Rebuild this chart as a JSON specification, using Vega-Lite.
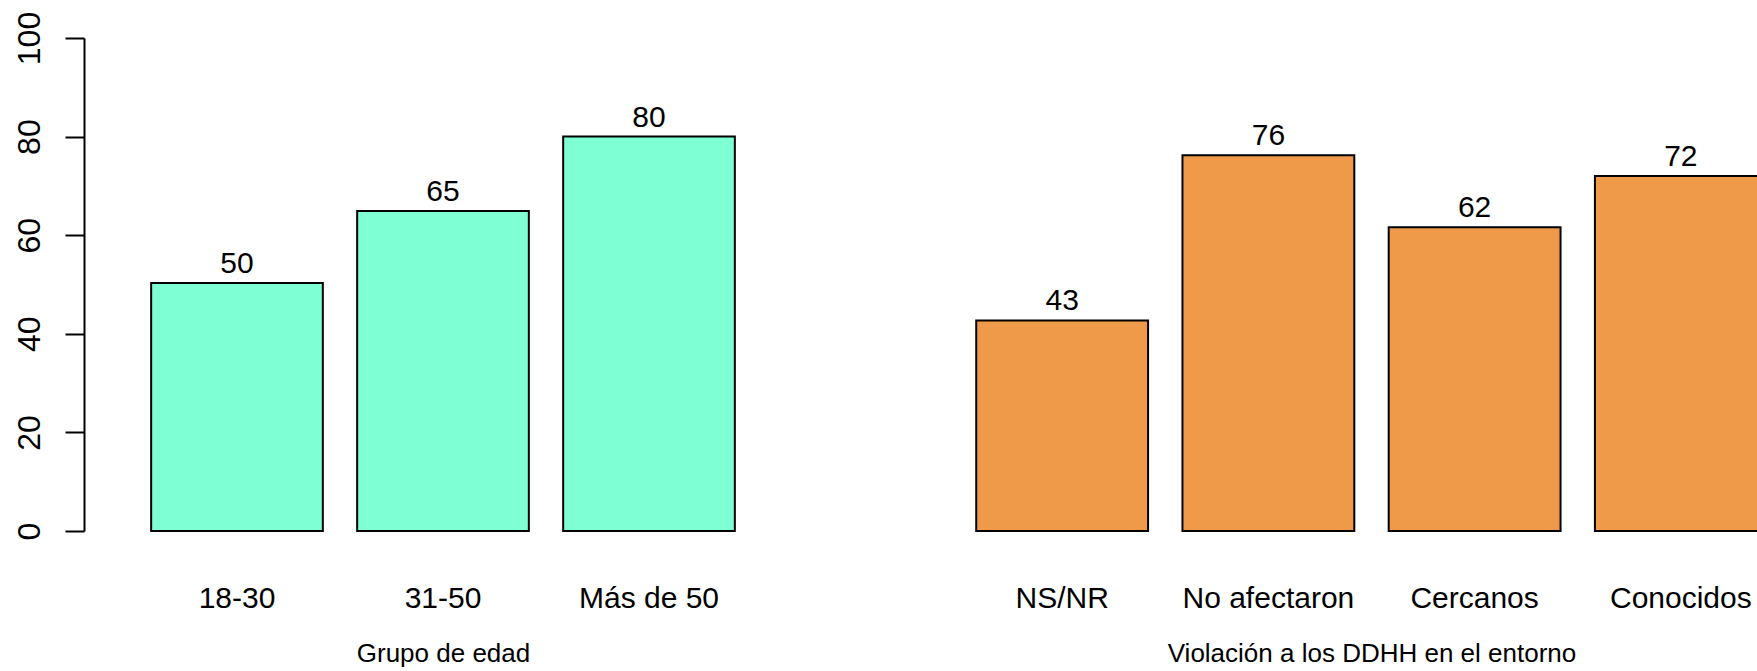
{
  "$schema": "https://vega.github.io/schema/vega-lite/v6.json",
  "width": 1673,
  "height": 493,
  "autosize": {"type": "none"},
  "padding": {"left": 84, "top": 38, "right": 0, "bottom": 140},
  "background": "white",
  "config": {
    "view": {"stroke": null},
    "font": "Liberation Sans",
    "axis": {"grid": false}
  },
  "datasets": {
    "barras": [
      {"grupo": "edad", "categoria": "18-30", "valor": 50.3},
      {"grupo": "edad", "categoria": "31-50", "valor": 64.9},
      {"grupo": "edad", "categoria": "Más de 50", "valor": 80.0},
      {"grupo": "ddhh", "categoria": "NS/NR", "valor": 42.7},
      {"grupo": "ddhh", "categoria": "No afectaron", "valor": 76.2},
      {"grupo": "ddhh", "categoria": "Cercanos", "valor": 61.6},
      {"grupo": "ddhh", "categoria": "Conocidos", "valor": 72.0}
    ]
  },
  "data": {"name": "barras"},
  "encoding": {
    "y": {
      "field": "valor",
      "type": "quantitative",
      "scale": {"domain": [0, 100], "nice": false, "zero": true},
      "axis": {
        "title": null,
        "values": [0, 20, 40, 60, 80, 100],
        "tickSize": 19,
        "tickWidth": 2,
        "tickColor": "black",
        "domainColor": "black",
        "domainWidth": 2,
        "labelAngle": 270,
        "labelAlign": "center",
        "labelBaseline": "alphabetic",
        "labelPadding": 26,
        "labelFontSize": 32,
        "labelColor": "black",
        "labelFont": "Liberation Sans"
      }
    }
  },
  "layer": [
    {
      "transform": [{"filter": "datum.grupo == 'edad'"}],
      "encoding": {
        "x": {
          "field": "categoria",
          "type": "nominal",
          "sort": null,
          "scale": {"range": [0, 718], "paddingInner": 0.1667, "paddingOuter": 0.326},
          "axis": {
            "orient": "bottom",
            "domain": false,
            "ticks": false,
            "tickSize": 0,
            "labelAngle": 0,
            "labelFontSize": 30,
            "labelFont": "Liberation Sans",
            "labelColor": "black",
            "labelBaseline": "alphabetic",
            "labelPadding": 76,
            "labelOverlap": false,
            "labelFlush": false,
            "labelLimit": 0,
            "title": "Grupo de edad",
            "titleFont": "Liberation Sans",
            "titleFontSize": 26,
            "titleFontWeight": "normal",
            "titleColor": "black",
            "titleBaseline": "alphabetic",
            "titleY": 130
          }
        }
      },
      "layer": [
        {"mark": {"type": "bar", "fill": "#7FFFD4", "stroke": "black", "strokeWidth": 2}},
        {
          "mark": {"type": "text", "baseline": "alphabetic", "dy": -10, "fontSize": 30, "font": "Liberation Sans", "color": "black"},
          "encoding": {"text": {"field": "valor", "type": "quantitative", "format": ".0f"}}
        }
      ]
    },
    {
      "transform": [{"filter": "datum.grupo == 'ddhh'"}],
      "encoding": {
        "x": {
          "field": "categoria",
          "type": "nominal",
          "sort": null,
          "scale": {"range": [825, 1750], "paddingInner": 0.1667, "paddingOuter": 0.326},
          "axis": {
            "orient": "bottom",
            "domain": false,
            "ticks": false,
            "tickSize": 0,
            "labelAngle": 0,
            "labelFontSize": 30,
            "labelFont": "Liberation Sans",
            "labelColor": "black",
            "labelBaseline": "alphabetic",
            "labelPadding": 76,
            "labelOverlap": false,
            "labelFlush": false,
            "labelLimit": 0,
            "title": "Violación a los DDHH en el entorno",
            "titleFont": "Liberation Sans",
            "titleFontSize": 26,
            "titleFontWeight": "normal",
            "titleColor": "black",
            "titleBaseline": "alphabetic",
            "titleY": 130
          }
        }
      },
      "layer": [
        {"mark": {"type": "bar", "fill": "#EE9A49", "stroke": "black", "strokeWidth": 2}},
        {
          "mark": {"type": "text", "baseline": "alphabetic", "dy": -10, "fontSize": 30, "font": "Liberation Sans", "color": "black"},
          "encoding": {"text": {"field": "valor", "type": "quantitative", "format": ".0f"}}
        }
      ]
    }
  ],
  "resolve": {"scale": {"x": "independent"}, "axis": {"x": "independent"}}
}
